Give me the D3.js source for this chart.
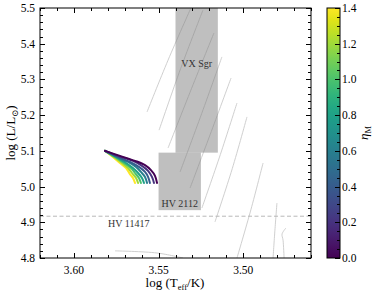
<!DOCTYPE html>
<html>
<head>
<meta charset="utf-8">
<script src="https://cdn.jsdelivr.net/npm/d3@7"></script>
<style>
body { margin: 0; background: #fff; }
text { font-family: "Liberation Serif", "DejaVu Serif", serif; }
</style>
</head>
<body>
<script>
// eta values of the coloured tracks
var etaValues = [0.0, 0.2, 0.4, 0.6, 0.8, 1.0, 1.2, 1.4];

// coloured tracks [logTeff, logL], one per eta value
var etaTracks = [
  [[3.5816,5.100],[3.5728,5.086],[3.5639,5.072],[3.5580,5.060],[3.5545,5.046],[3.5521,5.030],[3.5509,5.010]],
  [[3.5816,5.100],[3.5728,5.084],[3.5651,5.072],[3.5598,5.058],[3.5562,5.044],[3.5539,5.027],[3.5527,5.010]],
  [[3.5816,5.100],[3.5739,5.083],[3.5669,5.069],[3.5616,5.055],[3.5580,5.041],[3.5562,5.027],[3.5551,5.010]],
  [[3.5816,5.100],[3.5745,5.083],[3.5680,5.069],[3.5633,5.055],[3.5604,5.041],[3.5580,5.027],[3.5568,5.010]],
  [[3.5816,5.100],[3.5751,5.083],[3.5692,5.066],[3.5651,5.052],[3.5621,5.038],[3.5598,5.024],[3.5586,5.010]],
  [[3.5816,5.100],[3.5757,5.083],[3.5704,5.066],[3.5663,5.052],[3.5639,5.038],[3.5616,5.024],[3.5604,5.010]],
  [[3.5816,5.100],[3.5763,5.083],[3.5716,5.066],[3.5680,5.052],[3.5657,5.038],[3.5633,5.024],[3.5621,5.010]],
  [[3.5816,5.100],[3.5769,5.083],[3.5728,5.066],[3.5692,5.052],[3.5669,5.035],[3.5651,5.024],[3.5639,5.010]]
];

// light grey background tracks
var greyTracks = [
  [[3.5568,5.209],[3.5444,5.354],[3.5309,5.500]],
  [[3.5497,5.158],[3.5370,5.330],[3.5238,5.494]],
  [[3.5444,5.108],[3.5305,5.275],[3.5173,5.430]],
  [[3.5373,5.041],[3.5245,5.205],[3.5126,5.363]],
  [[3.5314,4.996],[3.5188,5.155],[3.5072,5.304]],
  [[3.5244,4.940],[3.5135,5.090],[3.5037,5.234]],
  [[3.5167,4.901],[3.5065,5.050],[3.4978,5.195]],
  [[3.5037,4.800],[3.4955,4.935],[3.4883,5.066]],
  [[3.4824,4.800],[3.4813,4.878],[3.4801,4.954]],
  [[3.4759,4.800],[3.4765,4.850],[3.4771,4.867],[3.4748,4.884]],
  [[3.5757,4.820],[3.5509,4.814],[3.5356,4.800]]
];

// observed stars: boxes in logTeff / logL
var starNames = ["VX Sgr", "HV 2112"];
var starTeff = [[3.540, 3.515], [3.550, 3.525]];
var starLum = [[5.095, 5.560], [4.934, 5.095]];
var hv11417Lum = 4.917;

var xTicks = [3.60, 3.55, 3.50];
var yTicks = [4.8, 4.9, 5.0, 5.1, 5.2, 5.3, 5.4, 5.5];
var cbTicks = [0.0, 0.2, 0.4, 0.6, 0.8, 1.0, 1.2, 1.4];

var W = 374, H = 296;
var pL = 40, pR = 311, pT = 8, pB = 258;

var svg = d3.select('body').append('svg').attr('width', W).attr('height', H);

var x = d3.scaleLinear().domain([3.62, 3.46]).range([pL, pR]);
var y = d3.scaleLinear().domain([4.8, 5.5]).range([pB, pT]);
var color = d3.scaleSequential(d3.interpolateViridis).domain([0, 1.4]);

svg.append('clipPath').attr('id', 'clip')
  .append('rect').attr('x', pL).attr('y', pT).attr('width', pR - pL).attr('height', pB - pT);

var plot = svg.append('g').attr('clip-path', 'url(#clip)');

var line = d3.line().x(function(d){ return x(d[0]); }).y(function(d){ return y(d[1]); })
  .curve(d3.curveCatmullRom);

plot.selectAll('.grey').data(greyTracks).enter().append('path')
  .attr('class', 'grey')
  .attr('d', line)
  .attr('fill', 'none')
  .attr('stroke', '#cacaca')
  .attr('stroke-width', 0.9);

// grey boxes, half transparent
plot.selectAll('.box').data(starNames).enter().append('rect')
  .attr('class', 'box')
  .attr('x', function(d, i){ return x(starTeff[i][0]); })
  .attr('width', function(d, i){ return x(starTeff[i][1]) - x(starTeff[i][0]); })
  .attr('y', function(d, i){ return y(starLum[i][1]); })
  .attr('height', function(d, i){ return y(starLum[i][0]) - y(starLum[i][1]); })
  .attr('fill', 'gray')
  .attr('fill-opacity', 0.5);

plot.append('line')
  .attr('x1', pL).attr('x2', pR)
  .attr('y1', y(hv11417Lum)).attr('y2', y(hv11417Lum))
  .attr('stroke', '#b0b0b0').attr('stroke-width', 0.9)
  .attr('stroke-dasharray', '4,2.5');

// labels
svg.append('text').attr('x', (x(starTeff[0][0]) + x(starTeff[0][1])) / 2).attr('y', 67)
  .attr('text-anchor', 'middle').attr('font-size', 10).attr('fill', '#333').text(starNames[0]);
svg.append('text').attr('x', (x(starTeff[1][0]) + x(starTeff[1][1])) / 2).attr('y', y(starLum[1][0]) - 3)
  .attr('text-anchor', 'middle').attr('font-size', 10).attr('fill', '#333').text(starNames[1]);
svg.append('text').attr('x', 108).attr('y', y(hv11417Lum) + 11)
  .attr('font-size', 10).attr('fill', '#333').text('HV 11417');

// coloured tracks, purple drawn last
var order = d3.range(etaValues.length).reverse();
plot.selectAll('.eta').data(order).enter().append('path')
  .attr('class', 'eta')
  .attr('d', function(i){ return line(etaTracks[i]); })
  .attr('fill', 'none')
  .attr('stroke', function(i){ return color(etaValues[i]); })
  .attr('stroke-width', 2)
  .attr('stroke-linecap', 'round');

// frame
svg.append('rect').attr('x', pL).attr('y', pT).attr('width', pR - pL).attr('height', pB - pT)
  .attr('fill', 'none').attr('stroke', '#000').attr('stroke-width', 1);

// ticks, pointing inward on all four sides
var xMinor = d3.range(3.46, 3.6201, 0.01);
var yMinor = d3.range(4.8, 5.5001, 0.02);
function isMajor(v, step){ return Math.abs(v / step - Math.round(v / step)) < 1e-6; }

var tk = svg.append('g').attr('stroke', '#000').attr('stroke-width', 1);
xMinor.forEach(function(v){
  var L = isMajor(v, 0.05) ? 5 : 3;
  var px = Math.round(x(v)) + 0.5;
  tk.append('line').attr('x1', px).attr('x2', px).attr('y1', pB).attr('y2', pB - L);
  tk.append('line').attr('x1', px).attr('x2', px).attr('y1', pT).attr('y2', pT + L);
});
yMinor.forEach(function(v){
  var L = isMajor(v, 0.1) ? 5 : 3;
  var py = Math.round(y(v)) + 0.5;
  tk.append('line').attr('x1', pL).attr('x2', pL + L).attr('y1', py).attr('y2', py);
  tk.append('line').attr('x1', pR).attr('x2', pR - L).attr('y1', py).attr('y2', py);
});

svg.selectAll('.xl').data(xTicks).enter().append('text')
  .attr('x', function(d){ return x(d); }).attr('y', 274)
  .attr('text-anchor', 'middle').attr('font-size', 11.5)
  .text(function(d){ return d.toFixed(2); });
svg.selectAll('.yl').data(yTicks).enter().append('text')
  .attr('x', 35).attr('y', function(d){ return y(d) + 4; })
  .attr('text-anchor', 'end').attr('font-size', 11.5)
  .text(function(d){ return d.toFixed(1); });

// axis titles
var xt = svg.append('text').attr('x', 175).attr('y', 287).attr('text-anchor', 'middle').attr('font-size', 13);
xt.append('tspan').text('log (T');
xt.append('tspan').attr('font-size', 8.5).attr('dy', 3).text('eff');
xt.append('tspan').attr('dy', -3).text('/K)');

var yt = svg.append('text').attr('transform', 'translate(15,' + ((pT + pB) / 2) + ') rotate(-90)')
  .attr('text-anchor', 'middle').attr('font-size', 13);
yt.append('tspan').text('log (L/L');
yt.append('tspan').attr('font-size', 8.5).attr('dy', 3).text('\u2299');
yt.append('tspan').attr('dy', -3).text(')');

// colorbar
var cbX = 327, cbW = 13;
var cy = d3.scaleLinear().domain([0, 1.4]).range([pB, pT]);
var grad = svg.append('defs').append('linearGradient').attr('id', 'cb')
  .attr('x1', 0).attr('y1', 1).attr('x2', 0).attr('y2', 0);
d3.range(0, 1.0001, 0.05).forEach(function(t){
  grad.append('stop').attr('offset', t).attr('stop-color', d3.interpolateViridis(t));
});
svg.append('rect').attr('x', cbX).attr('y', pT).attr('width', cbW).attr('height', pB - pT)
  .attr('fill', 'url(#cb)').attr('stroke', '#000').attr('stroke-width', 1);
var cbt = svg.append('g').attr('stroke', '#000').attr('stroke-width', 1);
d3.range(0, 1.4001, 0.05).forEach(function(v){
  var L = isMajor(v, 0.2) ? 5 : 3;
  var py = Math.round(cy(v)) + 0.5;
  cbt.append('line').attr('x1', cbX + cbW).attr('x2', cbX + cbW - L).attr('y1', py).attr('y2', py);
});
svg.selectAll('.cl').data(cbTicks).enter().append('text')
  .attr('x', cbX + cbW + 2).attr('y', function(d){ return cy(d) + 4; })
  .attr('font-size', 11.5)
  .text(function(d){ return d.toFixed(1); });

var ct = svg.append('text').attr('transform', 'translate(368,' + ((pT + pB) / 2) + ') rotate(-90)')
  .attr('text-anchor', 'middle').attr('font-size', 13);
ct.append('tspan').attr('font-style', 'italic').text('\u03b7');
ct.append('tspan').attr('font-size', 8.5).attr('dy', 3).text('M');
</script>
</body>
</html>
